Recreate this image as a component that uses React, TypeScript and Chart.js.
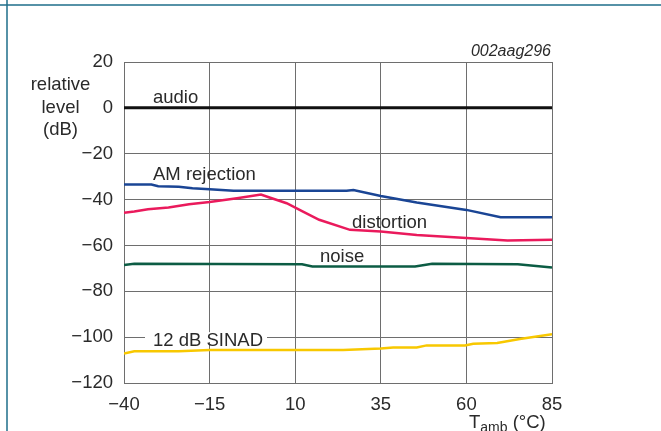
import React, { useEffect, useRef } from "react";
import { Chart, registerables } from "chart.js";

Chart.register(...registerables);

const xTicks = [-40, -15, 10, 35, 60, 85];
const yTicks = [-120, -100, -80, -60, -40, -20, 0, 20];

const audioT = [-40, 85];
const audioDb = [0, 0];

const amT = [-40, -32, -30, -24, -20, -15, -8, 25, 27, 35, 45.5, 60, 70, 85];
const amDb = [-33.4, -33.4, -34.2, -34.4, -35.1, -35.5, -36.1, -36.1, -35.8, -38.4, -41.3, -44.5, -47.7, -47.7];

const distT = [-40, -37, -33, -27, -21, -15, -7, 0, 2.5, 7.5, 12, 17, 26, 35, 45.5, 60, 72, 85];
const distDb = [-45.7, -45.2, -44.2, -43.5, -42, -41.1, -39.4, -37.8, -39.1, -41.6, -45, -48.8, -53.2, -53.9, -55.4, -56.8, -57.8, -57.5];

const noiseT = [-40, -37, 12, 15, 45, 50, 75, 85];
const noiseDb = [-68.5, -68, -68.2, -69.2, -69.2, -68, -68.2, -69.6];

const sinadT = [-40, -37, -24, -15, 10, 24, 35, 38.6, 45.5, 48.4, 59.6, 62, 69, 75.6, 85];
const sinadDb = [-107.2, -106.2, -106.2, -105.6, -105.6, -105.6, -104.9, -104.5, -104.5, -103.6, -103.6, -102.9, -102.6, -100.8, -98.7];

const FONT = '"Liberation Sans", Arial, Helvetica, sans-serif';
const TEXT = "#2a2a2a";
const GRID = "#6e6e6e";

const pts = (xs: number[], ys: number[]) => xs.map((x, i) => ({ x, y: ys[i] }));
const fmt = (v: number) => (v < 0 ? "\u2212" + Math.abs(v) : String(v));

const annotate = {
  id: "annotate",
  afterDatasetsDraw(chart: any) {
    const ctx = chart.ctx as CanvasRenderingContext2D;
    const ys = chart.scales.y;
    ctx.save();
    // decorative frame lines
    ctx.strokeStyle = "#1f6f8b";
    ctx.lineWidth = 1.5;
    ctx.beginPath();
    ctx.moveTo(0, 5);
    ctx.lineTo(661, 5);
    ctx.moveTo(7, 0);
    ctx.lineTo(7, 431);
    ctx.stroke();

    ctx.fillStyle = TEXT;
    ctx.textBaseline = "alphabetic";
    ctx.font = `18.5px ${FONT}`;
    ctx.textAlign = "left";
    ctx.fillText("audio", 153, 103);
    ctx.fillText("AM rejection", 153, 180);
    ctx.fillText("distortion", 352, 228);
    ctx.fillText("noise", 320, 261.5);

    // 12 dB SINAD with white background over gridline
    const sy = ys.getPixelForValue(-100);
    ctx.fillStyle = "#ffffff";
    ctx.fillRect(145, sy - 5, 122, 10);
    ctx.fillStyle = TEXT;
    ctx.fillText("12 dB SINAD", 153, 346);

    // y axis title
    ctx.textAlign = "center";
    ctx.fillText("relative", 60.5, 90);
    ctx.fillText("level", 60.5, 112.5);
    ctx.fillText("(dB)", 60.5, 135);

    // code title
    ctx.textAlign = "right";
    ctx.font = `italic 16px ${FONT}`;
    ctx.fillText("002aag296", 551, 56);

    // x axis title
    ctx.textAlign = "left";
    ctx.font = `18.5px ${FONT}`;
    ctx.fillText("T", 469, 428);
    const tw = ctx.measureText("T").width;
    ctx.font = `14px ${FONT}`;
    ctx.fillText("amb", 469 + tw, 432);
    const aw = ctx.measureText("amb").width;
    ctx.font = `18.5px ${FONT}`;
    ctx.fillText(" (\u00B0C)", 469 + tw + aw, 428);
    ctx.restore();
  },
};

export default function App() {
  const ref = useRef<HTMLCanvasElement>(null);
  useEffect(() => {
    document.body.style.margin = "0";
    const line = (label: string, xs: number[], ys: number[], color: string, w = 2.5) => ({
      label,
      data: pts(xs, ys),
      borderColor: color,
      backgroundColor: color,
      borderWidth: w,
      pointRadius: 0,
      tension: 0,
      fill: false,
    });
    const chart = new Chart(ref.current!, {
      type: "line",
      data: {
        datasets: [
          line("audio", audioT, audioDb, "#111111", 3),
          line("AM rejection", amT, amDb, "#1a4595"),
          line("distortion", distT, distDb, "#ea1a5c"),
          line("noise", noiseT, noiseDb, "#0c5c44"),
          line("12 dB SINAD", sinadT, sinadDb, "#f8c800"),
        ],
      },
      options: {
        responsive: false,
        animation: false,
        devicePixelRatio: 1,
        layout: { padding: { top: 62, right: 109, left: 0, bottom: 0 } },
        plugins: { legend: { display: false }, tooltip: { enabled: false } },
        scales: {
          x: {
            type: "linear",
            min: -40,
            max: 85,
            afterBuildTicks: (s: any) => {
              s.ticks = xTicks.map((v) => ({ value: v }));
            },
            afterFit: (s: any) => {
              s.height = 48;
            },
            ticks: {
              autoSkip: false,
              maxRotation: 0,
              padding: 11,
              color: TEXT,
              font: { size: 18.5, family: FONT },
              callback: (v: any) => fmt(Number(v)),
            },
            grid: { color: GRID, lineWidth: 1, drawTicks: false },
            border: { color: GRID, width: 1 },
          },
          y: {
            type: "linear",
            min: -120,
            max: 20,
            afterBuildTicks: (s: any) => {
              s.ticks = yTicks.map((v) => ({ value: v }));
            },
            afterFit: (s: any) => {
              s.width = 124;
            },
            ticks: {
              autoSkip: false,
              padding: 11,
              color: TEXT,
              font: { size: 18.5, family: FONT },
              callback: (v: any) => fmt(Number(v)),
            },
            grid: { color: GRID, lineWidth: 1, drawTicks: false },
            border: { color: GRID, width: 1 },
          },
        },
      },
      plugins: [annotate],
    } as any);
    return () => chart.destroy();
  }, []);
  return (
    <div style={{ position: "absolute", left: 0, top: 0, width: 661, height: 431, background: "#fff" }}>
      <canvas ref={ref} width={661} height={431} style={{ display: "block" }} />
    </div>
  );
}
